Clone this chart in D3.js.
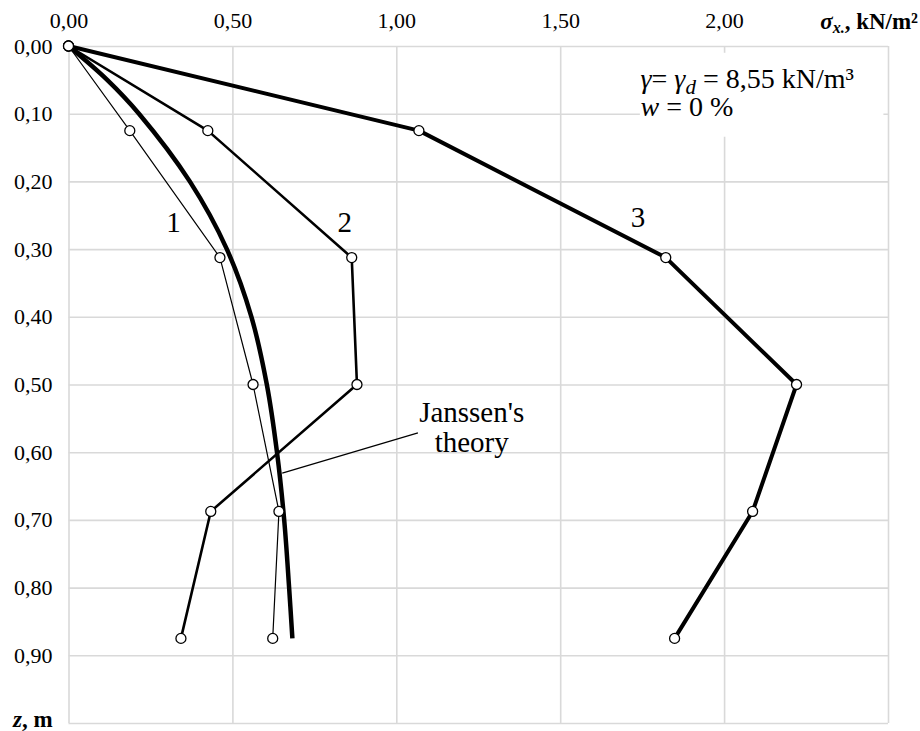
<!DOCTYPE html>
<html>
<head>
<meta charset="utf-8">
<script src="https://cdn.jsdelivr.net/npm/d3@7"></script>
<style>
  body { margin: 0; background: #fff; }
  svg { display: block; }
  svg text { font-family: 'Liberation Serif', 'DejaVu Serif', serif; fill: #000; }
</style>
</head>
<body>
<div id="chartContainer"></div>
<script>
// depth z (m) of the measuring points
var depths = [0, 0.125, 0.3125, 0.5, 0.6875, 0.875];
// horizontal pressure sigma_x (kN/m2) for the three tests
var series1 = [0, 0.187, 0.462, 0.563, 0.642, 0.623];
var series2 = [0, 0.425, 0.864, 0.880, 0.434, 0.343];
var series3 = [0, 1.069, 1.822, 2.221, 2.087, 1.849];
// Janssen's theory curve
var janssenZ = [0, 0.05, 0.1, 0.2, 0.3, 0.4, 0.5, 0.6, 0.7, 0.8, 0.875];
var janssenS = [0, 0.118, 0.215, 0.37, 0.483, 0.558, 0.605, 0.636, 0.658, 0.673, 0.683];
var xTicks = [0, 0.5, 1.0, 1.5, 2.0, 2.5];
var yTicks = [0, 0.1, 0.2, 0.3, 0.4, 0.5, 0.6, 0.7, 0.8, 0.9, 1.0];
var seriesNames = ['1', '2', '3'];

var width = 920;
var height = 731;
var margin = { top: 46, right: 32, bottom: 8, left: 68.5 };
var innerW = width - margin.left - margin.right;
var innerH = height - margin.top - margin.bottom;

var fmt = function (v) { return d3.format('.2f')(v).replace('.', ','); };

var svg = d3.select('#chartContainer').
append('svg').
attr('width', width).
attr('height', height);

var g = svg.append('g').
attr('transform', 'translate(' + margin.left + ',' + margin.top + ')');

var xScale = d3.scaleLinear().
domain([0, 2.5]).
range([0, innerW]);

var yScale = d3.scaleLinear().
domain([0, 1.0]).
range([0, innerH]);

var xAxis = d3.axisTop(xScale).
tickValues(xTicks).
tickSize(-innerH).
tickPadding(18).
tickFormat(function (d) { return d < 2.4 ? fmt(d) : ''; });

var yAxis = d3.axisLeft(yScale).
tickValues(yTicks).
tickSize(-innerW).
tickPadding(16).
tickFormat(function (d) { return d < 0.95 ? fmt(d) : ''; });

g.append('g').attr('class', 'x-axis').call(xAxis);
g.append('g').attr('class', 'y-axis').call(yAxis);

g.selectAll('.domain').remove();
g.selectAll('.tick line').
attr('stroke', '#d9d9d9').
attr('stroke-width', 1.6);
g.selectAll('.tick text').
attr('fill', '#000').
style('font-size', '22px').
style('font-family', "'Liberation Serif', serif");

// white box behind the parameter note
g.append('rect').
attr('x', xScale(1.743)).
attr('y', yScale(0.01)).
attr('width', xScale(2.486) - xScale(1.743)).
attr('height', yScale(0.134) - yScale(0.01)).
attr('fill', '#fff');

var note = g.append('text').
attr('x', xScale(1.745)).
attr('y', yScale(0.062)).
style('font-size', '28px');
note.append('tspan').style('font-style', 'italic').text('γ');
note.append('tspan').text('= ');
note.append('tspan').style('font-style', 'italic').text('γ');
note.append('tspan').style('font-style', 'italic').style('font-size', '21px').attr('dy', 6).text('d');
note.append('tspan').attr('dy', -6).text(' = 8,55 kN/m³');

var note2 = g.append('text').
attr('x', xScale(1.745)).
attr('y', yScale(0.104)).
style('font-size', '28px');
note2.append('tspan').style('font-style', 'italic').text('w');
note2.append('tspan').text(' = 0 %');

// lines
var line = d3.line().
x(function (d) { return xScale(d[0]); }).
y(function (d) { return yScale(d[1]); });

var curve = d3.line().
x(function (d) { return xScale(d[0]); }).
y(function (d) { return yScale(d[1]); }).
curve(d3.curveCatmullRom);

var allSeries = [series1, series2, series3];
var widths = [1.2, 2.6, 4];

g.append('path').
datum(janssenS.map(function (s, i) { return [s, janssenZ[i]]; })).
attr('d', curve).
attr('fill', 'none').
attr('stroke', '#000').
attr('stroke-width', 4.5);

allSeries.forEach(function (s, k) {
  g.append('path').
  datum(s.map(function (v, i) { return [v, depths[i]]; })).
  attr('d', line).
  attr('fill', 'none').
  attr('stroke', '#000').
  attr('stroke-width', widths[k]).
  attr('stroke-linejoin', 'round');
});

allSeries.forEach(function (s) {
  g.selectAll(null).
  data(s).
  enter().
  append('circle').
  attr('cx', function (d) { return xScale(d); }).
  attr('cy', function (d, i) { return yScale(depths[i]); }).
  attr('r', 5).
  attr('fill', '#fff').
  attr('stroke', '#000').
  attr('stroke-width', 1.3);
});

// series numbers
var labelPos = [[0.32, 0.26], [0.843, 0.26], [1.737, 0.253]];
g.selectAll('.num').
data(seriesNames).
enter().
append('text').
attr('class', 'num').
attr('x', function (d, i) { return xScale(labelPos[i][0]); }).
attr('y', function (d, i) { return yScale(labelPos[i][1]); }).
attr('dy', '0.35em').
attr('text-anchor', 'middle').
style('font-size', '29px').
text(function (d) { return d; });

// Janssen's theory label with leader
g.append('line').
attr('x1', xScale(1.066)).
attr('y1', yScale(0.5715)).
attr('x2', xScale(0.652)).
attr('y2', yScale(0.631)).
attr('stroke', '#000').
attr('stroke-width', 1.2);

g.append('text').
attr('x', xScale(1.23)).
attr('y', yScale(0.555)).
attr('text-anchor', 'middle').
style('font-size', '29px').
text("Janssen's");
g.append('text').
attr('x', xScale(1.23)).
attr('y', yScale(0.599)).
attr('text-anchor', 'middle').
style('font-size', '29px').
text('theory');

// axis titles
var xt = svg.append('text').
attr('x', 918).
attr('y', 29).
attr('text-anchor', 'end').
style('font-size', '23px').
style('font-weight', 'bold');
xt.append('tspan').style('font-style', 'italic').text('σ');
xt.append('tspan').style('font-style', 'italic').style('font-size', '16px').attr('dy', 4).text('x.');
xt.append('tspan').attr('dy', -4).text(', kN/m²');

var yt = svg.append('text').
attr('x', 13).
attr('y', 727).
style('font-size', '23px').
style('font-weight', 'bold');
yt.append('tspan').style('font-style', 'italic').text('z');
yt.append('tspan').text(', m');
</script>
</body>
</html>
